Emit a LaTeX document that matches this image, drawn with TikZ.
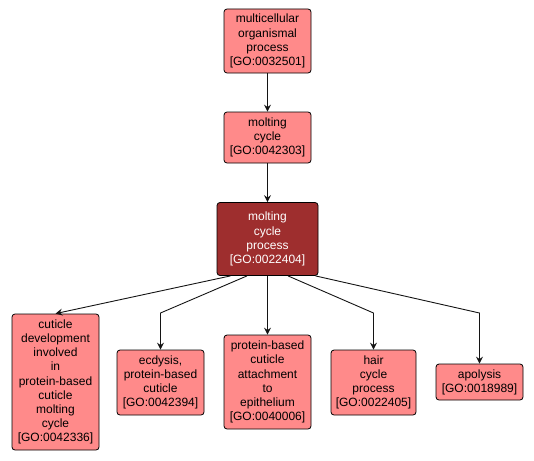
\documentclass[tikz,border=0pt]{standalone}
\usepackage{fontspec}
\setmainfont{Liberation Sans}
\usepackage{xcolor}
\usetikzlibrary{arrows.meta, positioning, calc}
\definecolor{termred}{RGB}{255, 138, 138}
\definecolor{focusred}{RGB}{158, 46, 46}
\definecolor{edgegray}{RGB}{20, 20, 20}

\begin{document}
\begin{tikzpicture}[
    x=1pt, y=-1pt,
    >={Stealth[length=7pt, width=7pt, inset=2.5pt]},
    goterm/.style={
        rectangle, rounded corners=3pt, draw=black, fill=termred, line width=0.8pt,
        align=center, inner sep=0pt, minimum width=87pt,
        font=\fontsize{12}{14.2}\selectfont
    },
    focus/.style={
        goterm, fill=focusred, text=white, minimum width=101pt
    },
    isa/.style={draw=edgegray, line width=0.9pt, ->}
]
    \useasboundingbox (0,0) rectangle (534,460);

    % Top chain of ancestors
    \node[goterm, minimum height=64pt] (mop) at (267.5, 41) {
        multicellular\\organismal\\process\\{[GO:0032501]}};
    \node[goterm, minimum height=51pt] (mc) at (267.5, 137.5) {
        molting\\cycle\\{[GO:0042303]}};

    % Center: the term in focus
    \node[focus, minimum height=73pt] (mcp) at (267.5, 239) {
        molting\\cycle\\process\\{[GO:0022404]}};

    % Bottom row: children
    \node[goterm, minimum height=136pt] (cdi) at (55.5, 382) {
        cuticle\\development\\involved\\in\\protein-based\\cuticle\\molting\\cycle\\{[GO:0042336]}};
    \node[goterm, minimum height=65pt] (ecd) at (160.5, 382.5) {
        ecdysis,\\protein-based\\cuticle\\{[GO:0042394]}};
    \node[goterm, minimum height=94pt] (pbc) at (267.5, 382) {
        protein-based\\cuticle\\attachment\\to\\epithelium\\{[GO:0040006]}};
    \node[goterm, minimum height=65pt, minimum width=85pt] (hcp) at (373.5, 382.5) {
        hair\\cycle\\process\\{[GO:0022405]}};
    \node[goterm, minimum height=36pt] (apo) at (479.5, 382) {
        apolysis\\{[GO:0018989]}};

    % --- Connections ---
    \draw[isa] (mop) -- (mc);
    \draw[isa] (mc) -- (mcp);

    \draw[isa] ([xshift=-37pt]mcp.south) -- (cdi.north);
    \draw[isa] ([xshift=-20.5pt]mcp.south) -- (ecd.north |- 0,313) -- (ecd.north);
    \draw[isa] (mcp) -- (pbc);
    \draw[isa] ([xshift=20.5pt]mcp.south) -- (hcp.north |- 0,313) -- (hcp.north);
    \draw[isa] ([xshift=48pt]mcp.south) -- (apo.north |- 0,313) -- (apo.north);

\end{tikzpicture}
\end{document}
